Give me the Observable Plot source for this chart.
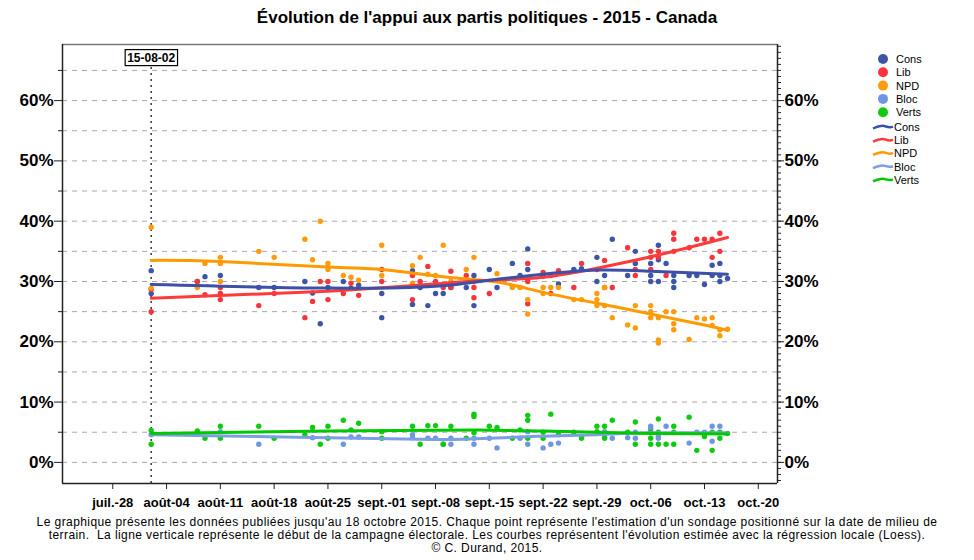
<!DOCTYPE html>
<html><head><meta charset="utf-8">
<script src="https://cdn.jsdelivr.net/npm/d3@7"></script>
<script src="https://cdn.jsdelivr.net/npm/@observablehq/plot@0.6"></script>
<style>
body{margin:0;background:#fff;font-family:"Liberation Sans",Arial,sans-serif;}
#wrap{position:relative;width:974px;height:560px;}
#title{height:36px;line-height:36px;text-align:center;font-weight:bold;font-size:17px;color:#000;}
#foot{position:absolute;left:0;top:516px;width:974px;text-align:center;font-family:"Liberation Sans Narrow","Arial Narrow","Liberation Sans",sans-serif;font-size:12px;letter-spacing:0.42px;line-height:13px;color:#000;}
#legend{position:absolute;left:866px;top:50px;}
</style></head>
<body><div id="wrap">
<div id="title">Évolution de l'appui aux partis politiques - 2015 - Canada</div>
<div id="chart"></div>
<div id="foot">Le graphique présente les données publiées jusqu'au 18 octobre 2015. Chaque point représente l'estimation d'un sondage positionné sur la date de milieu de<br>terrain.&nbsp; La ligne verticale représente le début de la campagne électorale. Les courbes représentent l'évolution estimée avec la régression locale (Loess).<br>© C. Durand, 2015.</div>
<div id="legend"></div>
</div>
<script>
const parties = ["Cons","Lib","NPD","Bloc","Verts"];
const dotColors = ["#3b56a6","#f7343c","#ff9c0c","#6f96e2","#0fcb0f"];
const lineColors = ["#3d50a8","#ff3a3a","#ff9a00","#7c9ee2","#00c800"];

const tickDates = ["07-28","08-04","08-11","08-18","08-25","09-01","09-08","09-15","09-22","09-29","10-06","10-13","10-20"];
const tickLabels = ["juil.-28","août-04","août-11","août-18","août-25","sept.-01","sept.-08","sept.-15","sept.-22","sept.-29","oct.-06","oct.-13","oct.-20"];
const campaignStart = "08-02";
const campaignLabel = "15-08-02";
const yTicks = [0,10,20,30,40,50,60];

const consPolls = [["08-02",31.8],["08-02",28],["08-08",30],["08-09",30.8],["08-11",31],["08-16",29],["08-18",29],["08-22",30],["08-23",28.1],["08-24",23],["08-25",29],["08-27",30],["08-28",28.9],["08-29",29.4],["09-01",28],["09-01",24],["09-05",31.8],["09-05",26.2],["09-06",29],["09-07",26],["09-08",28],["09-09",28],["09-10",29],["09-12",29],["09-13",31],["09-13",26],["09-15",32],["09-16",29],["09-18",33],["09-19",31],["09-20",35.4],["09-20",32],["09-22",30.9],["09-23",31],["09-24",29.6],["09-26",32],["09-27",32.1],["09-29",34],["09-29",30],["09-30",31],["10-01",37],["10-03",31],["10-04",35],["10-04",33],["10-06",33],["10-06",31],["10-06",30],["10-07",36],["10-07",33.6],["10-07",30],["10-08",33],["10-09",31],["10-09",30],["10-09",29],["10-11",31],["10-12",31],["10-13",29.5],["10-14",32.7],["10-14",31],["10-15",33],["10-15",31],["10-15",30],["10-16",30.5]];
const libPolls = [["08-02",28.7],["08-02",25],["08-08",30],["08-09",27.8],["08-11",29],["08-11",28],["08-11",27],["08-16",26],["08-18",28],["08-22",24],["08-23",26.7],["08-24",30],["08-25",30],["08-25",27],["08-27",28],["08-28",29.7],["08-29",27.7],["09-01",32],["09-01",30],["09-05",31],["09-05",27],["09-06",30],["09-07",32.5],["09-08",30],["09-09",29],["09-10",31.7],["09-10",29],["09-12",31],["09-13",30],["09-13",29],["09-13",27.3],["09-15",28],["09-20",33],["09-20",30],["09-20",26.3],["09-22",31.5],["09-23",28],["09-24",31.8],["09-26",29],["09-27",33],["09-29",32],["09-30",33.5],["09-30",29],["10-01",29],["10-03",35.6],["10-04",32],["10-04",31],["10-06",35],["10-06",34],["10-06",32],["10-07",35],["10-07",34],["10-08",31],["10-09",38],["10-09",37],["10-09",35],["10-11",35.6],["10-12",37],["10-13",37],["10-14",37],["10-14",34],["10-15",38],["10-15",35]];
const npdPolls = [["08-02",39],["08-02",28.9],["08-08",29],["08-09",33],["08-11",34],["08-11",33],["08-11",30],["08-16",35],["08-18",34],["08-22",37],["08-23",33.6],["08-24",40],["08-25",33],["08-25",32],["08-27",31],["08-28",30.7],["08-29",30.2],["09-01",36],["09-01",31],["09-05",32.6],["09-05",29.7],["09-06",34],["09-07",31.2],["09-08",31],["09-09",36],["09-10",30],["09-12",32],["09-13",34],["09-13",30],["09-16",31.3],["09-18",29],["09-19",29],["09-20",27],["09-20",24.6],["09-22",29],["09-22",28],["09-23",29],["09-24",29],["09-26",27],["09-27",27],["09-29",28],["09-29",27],["09-29",26],["09-30",29],["09-30",26],["10-01",24],["10-03",22.8],["10-04",26],["10-04",22.3],["10-06",26],["10-06",25],["10-06",24],["10-07",24],["10-07",20.3],["10-07",19.8],["10-08",25],["10-09",25],["10-09",23],["10-09",22],["10-11",20.4],["10-12",24],["10-13",23.8],["10-14",24],["10-14",22.7],["10-15",22],["10-15",21],["10-16",22.1]];
const blocPolls = [["08-02",4.6],["08-11",5.1],["08-16",3],["08-23",4.1],["08-27",3],["08-28",4.2],["08-29",4.2],["09-05",4.6],["09-05",4.1],["09-07",4],["09-08",4],["09-09",3],["09-10",4],["09-10",3],["09-13",4],["09-13",3],["09-15",4],["09-16",2.4],["09-19",4],["09-20",5.1],["09-20",3],["09-22",2.4],["09-23",3],["09-24",3.2],["09-27",4.3],["09-29",4.9],["09-30",5.1],["09-30",4.2],["10-01",4],["10-03",4.1],["10-04",5],["10-04",4],["10-06",6],["10-06",5.5],["10-06",4.9],["10-07",4.2],["10-07",4],["10-08",6],["10-11",3.2],["10-12",5],["10-13",5],["10-14",6],["10-14",3.5],["10-15",6]];
const vertsPolls = [["08-02",5.3],["08-02",3],["08-08",5.2],["08-09",4],["08-11",6],["08-11",4],["08-16",6],["08-18",4],["08-22",4.6],["08-23",5.8],["08-24",3],["08-25",6],["08-25",4],["08-27",7],["08-28",5.4],["08-29",6.5],["09-01",5.1],["09-01",4],["09-05",6],["09-06",3],["09-07",6.1],["09-08",6.1],["09-09",3],["09-10",6],["09-12",4],["09-13",8],["09-13",7.6],["09-13",4.9],["09-15",6],["09-16",5.8],["09-18",4],["09-19",5.4],["09-20",7.8],["09-20",7],["09-20",4],["09-22",5],["09-22",4],["09-23",8],["09-24",4.6],["09-26",5],["09-27",4],["09-29",6],["09-29",5.1],["09-30",6],["09-30",4],["10-01",7],["10-03",5],["10-04",6.7],["10-04",3],["10-06",5],["10-06",4],["10-06",3],["10-07",7.2],["10-07",5],["10-07",3],["10-08",3],["10-09",6],["10-09",5],["10-09",3],["10-11",7.5],["10-12",2],["10-13",4.3],["10-14",5],["10-14",2],["10-15",5],["10-15",4],["10-16",4.8]];

const consTrend = [["08-02",29.5],["08-25",28.9],["09-08",29.2],["09-15",30.2],["09-22",31.2],["09-29",31.9],["10-06",31.7],["10-16",31.2]];
const libTrend = [["08-02",27.2],["08-25",28.4],["09-08",29.6],["09-15",30.2],["09-22",30.7],["09-29",32.2],["10-06",34.1],["10-13",36.3],["10-16",37.3]];
const npdTrend = [["08-02",33.5],["08-11",33.3],["08-25",32.4],["09-01",32],["09-09",30.8],["09-16",29.9],["09-22",28.2],["09-29",26.4],["10-06",24.6],["10-13",22.8],["10-16",21.9]];
const blocTrend = [["08-02",4.6],["08-25",4.1],["09-08",3.8],["09-15",4.0],["09-22",4.35],["09-29",4.6],["10-06",4.9],["10-16",4.9]];
const vertsTrend = [["08-02",4.8],["08-25",5.2],["09-08",5.35],["09-15",5.35],["09-22",5.2],["09-29",5.0],["10-06",4.8],["10-16",4.7]];

const polls = [consPolls, libPolls, npdPolls, blocPolls, vertsPolls];
const trends = [consTrend, libTrend, npdTrend, blocTrend, vertsTrend];

const D = s => new Date("2015-" + s + "T00:00:00Z");
const toRows = (arr, i) => arr.map(([d, v]) => ({date: D(d), v, party: parties[i]}));

const xDomain = [new Date(Date.UTC(2015,6,21,11)), new Date(Date.UTC(2015,9,22,12))];
const yDomain = [-3.5, 69.3];
const labelMap = new Map(tickDates.map((d,i) => [+D(d), tickLabels[i]]));
const blank = () => "";

const marks = [
  Plot.ruleY(d3.range(0, 70, 5), {stroke: "#aaa", strokeDasharray: "5,5", strokeWidth: 1}),
  Plot.ruleX([D(campaignStart)], {y1: yDomain[0], y2: 66.6, stroke: "#444", strokeWidth: 1.6, strokeDasharray: "2,4"}),
  ...polls.map((p, i) => Plot.dot(toRows(p, i), {x: "date", y: "v", r: 2.7, fill: dotColors[i], stroke: "none"})),
  ...[3,4,2,1,0].map(i => Plot.line(toRows(trends[i], i), {x: "date", y: "v", stroke: lineColors[i], strokeWidth: 3, curve: "natural"})),
  Plot.ruleY([yDomain[1]], {stroke: "#777", strokeWidth: 1.5}),
  Plot.ruleY([yDomain[0]], {stroke: "#222", strokeWidth: 1.5}),
  Plot.ruleX([xDomain[0]], {stroke: "#222", strokeWidth: 1.5}),
  Plot.ruleX([xDomain[1]], {stroke: "#222", strokeWidth: 1.5}),
  Plot.axisY({ticks: yTicks, anchor: "left", tickSize: 8, tickPadding: 1, tickFormat: d => d + "%", fontSize: 17, fontWeight: "bold", label: null, stroke: "#222"}),
  Plot.axisY({ticks: d3.range(5, 70, 10), anchor: "left", tickSize: 4, tickFormat: blank, label: null, stroke: "#222"}),
  Plot.axisY({ticks: yTicks, anchor: "right", tickSize: 6, tickPadding: 1, tickFormat: d => d + "%", fontSize: 17, fontWeight: "bold", label: null, stroke: "#222"}),
  Plot.axisY({ticks: d3.range(-3, 70, 1), anchor: "right", tickSize: 3, tickFormat: blank, label: null, stroke: "#222"}),
  Plot.axisX({ticks: tickDates.map(D), anchor: "bottom", tickSize: 6, tickPadding: 8, tickFormat: d => labelMap.get(+d), fontSize: 13, fontWeight: "bold", fontFamily: "'Liberation Sans Narrow','Arial Narrow',sans-serif", label: null, stroke: "#222"}),
  Plot.text([D(campaignStart)], {x: d => d, y: 67.1, text: () => campaignLabel, fontSize: 12, fontWeight: "bold", fill: "#000", className: "campLabel"})
];

const chart = Plot.plot({
  width: 974, height: 477,
  marginLeft: 62, marginRight: 197, marginTop: 8, marginBottom: 30,
  style: {fontFamily: "'Liberation Sans',Arial,sans-serif", color: "#000", background: "#fff", overflow: "visible"},
  x: {type: "utc", domain: xDomain},
  y: {domain: yDomain},
  marks
});
document.getElementById("chart").appendChild(chart);

// box behind campaign label
const lbl = chart.querySelector(".campLabel text");
if (lbl) {
  const bb = lbl.getBBox();
  const r = document.createElementNS("http://www.w3.org/2000/svg", "rect");
  r.setAttribute("x", bb.x - 2); r.setAttribute("y", bb.y - 1);
  r.setAttribute("width", bb.width + 4); r.setAttribute("height", bb.height + 2);
  r.setAttribute("fill", "#fff"); r.setAttribute("stroke", "#000"); r.setAttribute("stroke-width", 1.2);
  const tr = lbl.getAttribute("transform");
  if (tr) r.setAttribute("transform", tr);
  lbl.parentNode.insertBefore(r, lbl);
}

// legend
const lg = d3.select("#legend").append("svg").attr("width", 100).attr("height", 140)
  .style("font-family", "'Liberation Sans',Arial,sans-serif").style("font-size", "11px");
parties.forEach((p, i) => {
  const y = 9 + i * 13.3;
  lg.append("circle").attr("cx", 17).attr("cy", y).attr("r", 5).attr("fill", dotColors[i]);
  lg.append("text").attr("x", 30).attr("y", y + 4).text(p);
});
parties.forEach((p, i) => {
  const y = 77 + i * 13.2;
  lg.append("path").attr("d", `M7,${y+1.5} C12,${y-1} 16,${y-2} 20,${y-0.5} S25,${y+0.5} 27,${y-0.5}`)
    .attr("fill", "none").attr("stroke", lineColors[i]).attr("stroke-width", 2.5);
  lg.append("text").attr("x", 28).attr("y", y + 4).text(p);
});
</script>
</body></html>
